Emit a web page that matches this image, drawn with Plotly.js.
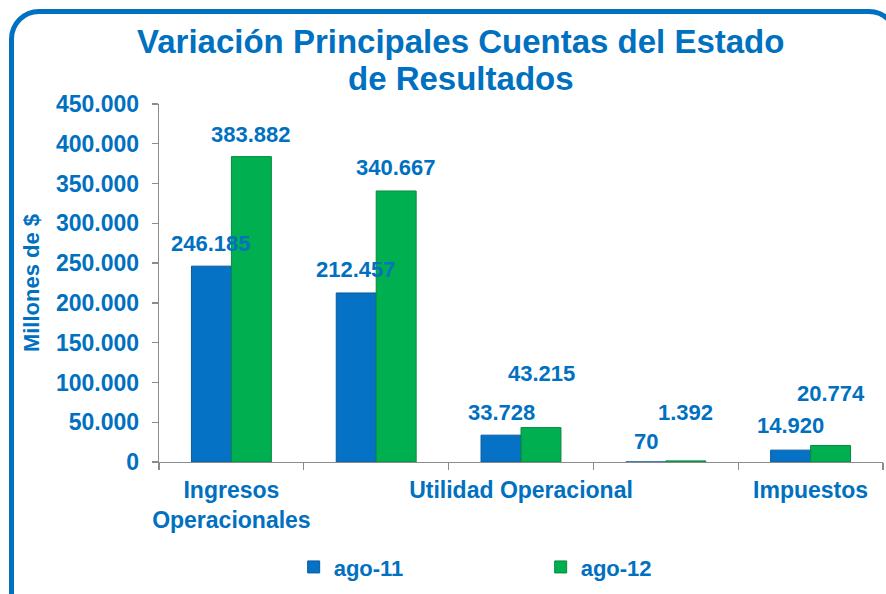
<!DOCTYPE html>
<html>
<head>
<meta charset="utf-8">
<script src="https://cdn.plot.ly/plotly-3.0.1.min.js"></script>
<style>
  html, body { margin: 0; padding: 0; background: #ffffff; overflow: hidden; }
  #chart { width: 886px; height: 594px; }
  #frame { position: absolute; left: 9px; top: 9px; width: 890px; height: 620px;
           border: 5px solid #0070C0; border-radius: 30px; box-sizing: border-box; pointer-events: none; }
</style>
</head>
<body>
<div id="chart"></div>
<div id="frame"></div>
<script>
// Data
const categories = ["Ingresos Operacionales", "Costos Operacionales", "Utilidad Operacional", "Otros No Operacionales", "Impuestos"];
const tickLabels = ["Ingresos<br>Operacionales", "", "Utilidad Operacional", "", "Impuestos"];
const seriesNames = ["ago-11", "ago-12"];
const ago11 = [246185, 212457, 33728, 70, 14920];
const ago12 = [383882, 340667, 43215, 1392, 20774];
const yTickVals = [0, 50000, 100000, 150000, 200000, 250000, 300000, 350000, 400000, 450000];
const titleLines = ["Variación Principales Cuentas del Estado", "de Resultados"];

// Label vertical offsets (px) to mimic original placement
const shift11 = [23, 23, 23, 20, 25];
const shift12 = [22, 23, 54, 48, 52];

const textBlue = "#0070C0";
const fontFam = "Liberation Sans, Arial, sans-serif";

const traces = [
  { type: "bar", name: seriesNames[0], x: categories, y: ago11,
    marker: { color: "#0572C6", line: { color: "#0A5A9C", width: 1 } }, hoverinfo: "y" },
  { type: "bar", name: seriesNames[1], x: categories, y: ago12,
    marker: { color: "#00B050", line: { color: "#078A3F", width: 1 } }, hoverinfo: "y" }
];

function fmt(v) { return v.toString().replace(/\B(?=(\d{3})+(?!\d))/g, "."); }

const annotations = [];
categories.forEach((c, i) => {
  annotations.push({ x: c, y: ago11[i], xref: "x", yref: "y", text: fmt(ago11[i]), showarrow: false,
    xshift: -20, yshift: shift11[i], yanchor: "middle",
    font: { family: fontFam, size: 22, color: textBlue, weight: "bold" } });
  annotations.push({ x: c, y: ago12[i], xref: "x", yref: "y", text: fmt(ago12[i]), showarrow: false,
    xshift: 20, yshift: shift12[i], yanchor: "middle",
    font: { family: fontFam, size: 22, color: textBlue, weight: "bold" } });
});
// Chart title (two lines, tight line spacing)
const titleY = [1.1732, 1.0726];
titleLines.forEach((t, i) => {
  annotations.push({ text: "<b>" + t + "</b>", xref: "paper", yref: "paper",
    x: 0.417, y: titleY[i], xanchor: "center", yanchor: "middle", showarrow: false,
    font: { family: fontFam, size: 33, color: textBlue } });
});

const layout = {
  width: 886, height: 594,
  paper_bgcolor: "#ffffff", plot_bgcolor: "#ffffff",
  separators: ",.",
  margin: { l: 159, r: 3, t: 104, b: 132 },
  font: { family: fontFam, color: textBlue },
  barmode: "group", bargap: 0.448, bargroupgap: 0,
  xaxis: {
    type: "category", tickvals: categories, ticktext: tickLabels, tickangle: 0,
    tickson: "boundaries", ticks: "outside", ticklen: 7, tickcolor: "#8c8c8c", tickwidth: 1.3,
    showline: true, linecolor: "#8c8c8c", linewidth: 1.3, showgrid: false,
    tickfont: { family: fontFam, size: 23, color: textBlue, weight: "bold" },
    ticklabelstandoff: 7,
    automargin: false
  },
  yaxis: {
    range: [0, 450000], tickvals: yTickVals, tickformat: ",d",
    ticks: "outside", ticklen: 6, tickcolor: "#8c8c8c", tickwidth: 1.3,
    showline: true, linecolor: "#8c8c8c", linewidth: 1.3, showgrid: false, zeroline: false,
    tickfont: { family: fontFam, size: 23, color: textBlue, weight: "bold" },
    ticklabelstandoff: 8,
    title: { text: "<b>Millones de $</b>", font: { family: fontFam, size: 22, color: textBlue }, standoff: 10 },
    automargin: false
  },
  legend: {
    orientation: "h", x: 0.186, xanchor: "left", y: -0.235, yanchor: "top",
    entrywidth: 202, entrywidthmode: "pixels",
    font: { family: fontFam, size: 22, color: textBlue, weight: "bold" },
    itemwidth: 30, traceorder: "normal"
  },
  showlegend: true,
  annotations: annotations
};

Plotly.newPlot("chart", traces, layout, { displayModeBar: false, staticPlot: true });
</script>
</body>
</html>
